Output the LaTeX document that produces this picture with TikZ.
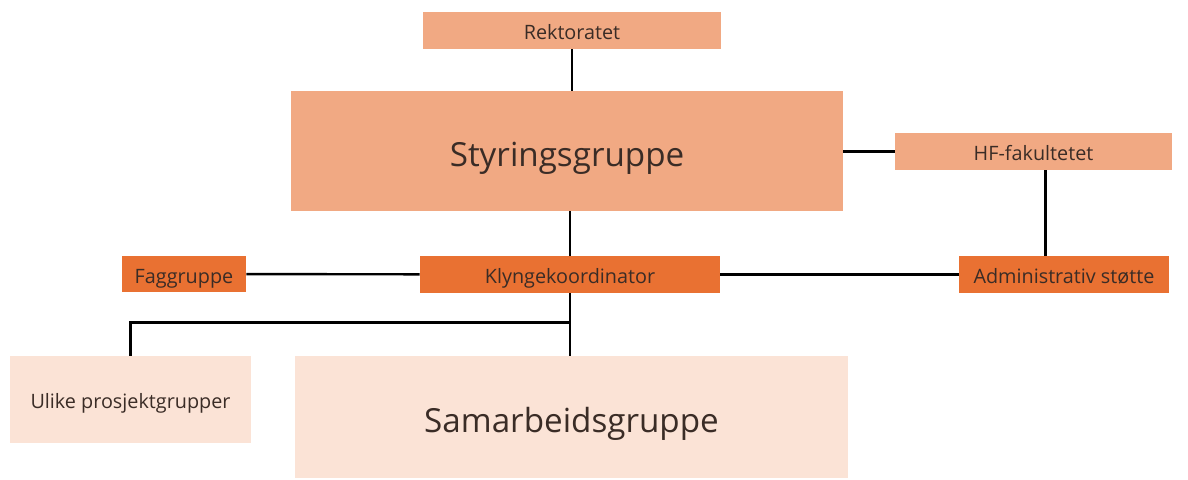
\documentclass[tikz,border=0pt]{standalone}
\usepackage{fontspec}
\setmainfont{Open Sans}
\usetikzlibrary{positioning}
\definecolor{mid}{HTML}{F1A983}
\definecolor{dark}{HTML}{E97132}
\definecolor{pale}{HTML}{FBE3D6}
\definecolor{ink}{HTML}{3A2C26}
\tikzstyle{block}=[rectangle,inner sep=0pt,text=ink,text height=11.5pt,text depth=2.4pt,font=\fontsize{9.9}{12}\selectfont]
\tikzstyle{midbox}=[block,fill=mid]
\tikzstyle{darkbox}=[block,fill=dark]
\tikzstyle{palebox}=[block,fill=pale]
\tikzstyle{big}=[text height=19.6pt,text depth=4pt,font=\fontsize{16.6}{20}\selectfont]
\tikzstyle{link}=[draw=black,line width=1.2pt]

\begin{document}
\begin{tikzpicture}[x=0.5pt,y=-0.5pt]
    \useasboundingbox (0,0) rectangle (1188,479);
    \node[midbox, minimum width=149pt, minimum height=18.5pt] (rektor) at (572,30.5) {Rektoratet};
    \node[midbox, big, minimum width=276pt, minimum height=60pt] (styr) at (567,151) {Styringsgruppe};
    \node[midbox, minimum width=138.5pt, minimum height=18.5pt] (hf) at (1033.5,151.5) {HF-fakultetet};
    \draw[link] (rektor) -- (rektor |- styr.north);
    \draw[link] (styr.east |- hf) -- (hf);

    \node[darkbox, minimum width=62pt, minimum height=18pt] (fag) at (184,274) {Faggruppe};
    \node[darkbox, minimum width=150pt, minimum height=18.5pt] (klynge) at (570,274.5) {Klyngekoordinator};
    \node[darkbox, minimum width=105pt, minimum height=18.5pt] (admin) at (1064,274.5) {Administrativ støtte};
    \draw[link] (styr.south -| klynge) -- (klynge);
    \draw[link] (fag) -- (klynge);
    \draw[link] (klynge) -- (admin);
    \draw[link] ([xshift=6pt]hf.south) -- ([xshift=6pt]hf.south |- admin.north);

    \node[palebox, minimum width=120.5pt, minimum height=43.5pt] (ulike) at (130.5,399.5) {Ulike prosjektgrupper};
    \node[palebox, big, minimum width=276.5pt, minimum height=61pt] (samarb) at (571.5,417) {Samarbeidsgruppe};
    \coordinate[below=14.5pt of klynge.south] (split);
    \draw[link] (klynge.south) -- (klynge.south |- samarb.north);
    \draw[link] (split) -| (ulike.north);
\end{tikzpicture}
\end{document}
